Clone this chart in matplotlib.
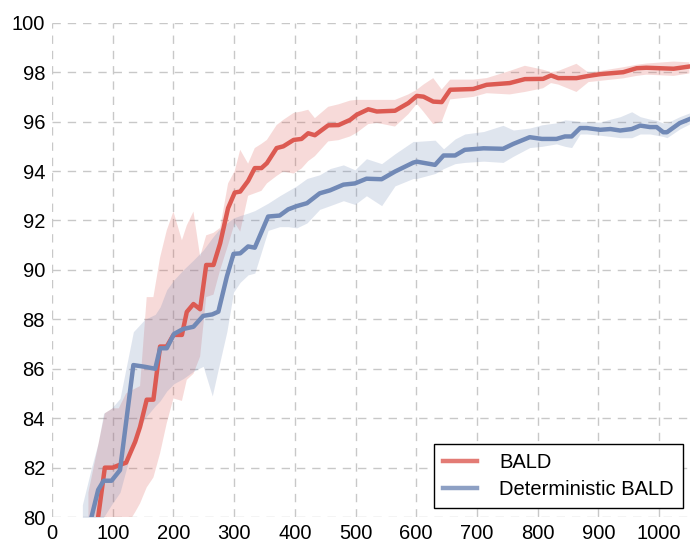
import matplotlib
matplotlib.use("Agg")
import matplotlib.pyplot as plt

plt.rcParams['font.family'] = ['Liberation Sans', 'DejaVu Sans']

# BALD (red)
x_bald = [60, 87, 100, 110, 122, 137, 145, 156, 167, 178, 189, 200, 214, 222, 233,
          244, 254, 266, 277, 290, 301, 310, 323, 334, 345, 354, 370, 381, 398, 411,
          422, 433, 455, 472, 491, 502, 521, 535, 565, 587, 601, 612, 628, 642, 656,
          694, 716, 754, 779, 809, 822, 834, 864, 884, 903, 941, 963, 979, 1024, 1050]
bald_mean = [77.1, 82.0, 82.0, 82.1, 82.2, 83.05, 83.65, 84.75, 84.75, 86.9, 86.9, 87.37, 87.37, 88.3, 88.62,
             88.41, 90.2, 90.2, 91.08, 92.5, 93.13, 93.17, 93.6, 94.12, 94.12, 94.32, 94.93, 95.0, 95.26, 95.3,
             95.53, 95.45, 95.85, 95.86, 96.07, 96.28, 96.5, 96.41, 96.44, 96.75, 97.04, 97.01, 96.81, 96.79, 97.29,
             97.32, 97.49, 97.56, 97.72, 97.73, 97.87, 97.76, 97.76, 97.85, 97.92, 98.0, 98.16, 98.18, 98.14, 98.23]
bald_hi = [81.0, 84.2, 84.4, 84.4, 85.0, 85.2, 85.3, 88.9, 88.9, 90.5, 91.6, 92.36, 91.2, 91.8, 92.36,
           90.54, 91.4, 91.5, 91.7, 93.5, 94.0, 94.86, 94.3, 94.93, 95.1, 95.26, 95.86, 96.07, 96.35, 96.41,
           96.48, 96.14, 96.6, 96.7, 96.85, 96.88, 96.88, 96.88, 96.88, 97.1, 97.29, 97.5, 97.76, 97.3, 97.7,
           97.7, 97.76, 98.05, 98.26, 98.1, 98.0, 98.05, 98.34, 97.98, 98.05, 98.2, 98.3, 98.35, 98.43, 98.4]
bald_lo = [75.0, 78.5, 79.0, 79.3, 79.6, 80.2, 80.55, 81.2, 81.6, 82.58, 83.8, 84.8, 84.7, 85.55, 85.8,
           86.5, 88.9, 89.0, 90.0, 91.0, 91.9, 91.55, 93.0, 93.1, 93.2, 93.5, 93.8, 93.98, 93.9, 94.1,
           94.4, 94.6, 95.2, 95.25, 95.4, 95.55, 95.9, 95.95, 95.8, 96.3, 96.72, 96.4, 95.9, 96.0, 96.9,
           97.0, 97.15, 97.1, 97.2, 97.35, 97.56, 97.5, 97.2, 97.6, 97.65, 97.75, 97.85, 97.9, 97.85, 97.95]

# Deterministic BALD (blue)
x_det = [50, 65, 76, 85, 98, 112, 134, 153, 170, 178, 189, 201, 216, 233, 249,
         264, 274, 288, 299, 310, 323, 334, 356, 375, 389, 403, 420, 441, 458, 480,
         499, 518, 543, 565, 595, 601, 631, 645, 664, 680, 711, 743, 760, 787, 807,
         831, 845, 856, 870, 881, 903, 920, 936, 955, 969, 985, 996, 1007, 1013, 1034, 1050]
det_mean = [78.6, 80.0, 81.1, 81.47, 81.47, 81.9, 86.15, 86.08, 86.0, 86.83, 86.83, 87.41, 87.61, 87.7, 88.14,
            88.2, 88.31, 89.73, 90.65, 90.67, 90.95, 90.9, 92.16, 92.2, 92.45, 92.58, 92.7, 93.1, 93.22, 93.45,
            93.5, 93.69, 93.67, 93.98, 94.34, 94.38, 94.25, 94.63, 94.63, 94.86, 94.92, 94.9, 95.1, 95.37, 95.3,
            95.3, 95.4, 95.4, 95.74, 95.74, 95.67, 95.7, 95.64, 95.7, 95.84, 95.78, 95.78, 95.57, 95.57, 95.94, 96.1]
det_hi = [80.5, 82.0, 83.0, 84.2, 84.4, 84.8, 87.5, 88.0, 88.2, 88.5, 89.2, 89.6, 90.0, 90.4, 90.8,
          91.3, 91.6, 91.9, 92.1, 92.2, 92.3, 92.4, 92.7, 93.0, 93.2, 93.4, 93.7, 93.85, 94.1, 94.25,
          94.05, 94.5, 94.3, 94.7, 95.2, 95.2, 95.25, 94.9, 95.3, 95.5, 95.6, 95.85, 95.66, 95.74, 95.87,
          95.95, 96.07, 96.05, 96.0, 96.0, 95.98, 96.1, 96.2, 96.4, 96.2, 96.1, 96.05, 95.94, 95.95, 96.2, 96.35]
det_lo = [77.0, 78.5, 79.5, 80.0, 80.5, 81.0, 83.0, 84.0, 84.5, 84.7, 85.1, 85.4, 85.6, 85.9, 86.1,
          84.9, 86.0, 87.5, 89.1, 89.5, 89.8, 89.87, 91.6, 91.75, 91.75, 91.7, 91.9, 92.45, 92.6, 92.8,
          92.65, 93.0, 92.6, 93.4, 93.7, 93.7, 93.9, 94.1, 94.3, 94.35, 94.4, 94.35, 94.6, 94.95, 95.0,
          95.1, 95.0, 94.95, 95.5, 95.5, 95.45, 95.4, 95.35, 95.35, 95.5, 95.5, 95.45, 95.4, 95.35, 95.7, 95.9]

red = '#dc5a52'
blue = '#7189b6'

fig = plt.figure(figsize=(6.9, 5.42), dpi=100)
ax = fig.add_axes([0.0754, 0.046, 0.9246, 0.912])

ax.fill_between(x_bald, bald_lo, bald_hi, color=red, alpha=0.22, linewidth=0)
ax.fill_between(x_det, det_lo, det_hi, color=blue, alpha=0.22, linewidth=0)
ax.plot(x_bald, bald_mean, color=red, lw=3.2, label='BALD')
ax.plot(x_det, det_mean, color=blue, lw=3.2, label='Deterministic BALD')

ax.set_xlim(0, 1051)
ax.set_ylim(80, 100)
ax.set_xticks(range(0, 1001, 100))
ax.set_yticks(range(80, 101, 2))
ax.tick_params(length=0, labelsize=14.5, pad=5)
ax.grid(True, linestyle=(0, (6, 5)), color='#c8c8c8', linewidth=1)
ax.set_axisbelow(True)
for s in ax.spines.values():
    s.set_visible(False)

leg = ax.legend(loc='lower right', fontsize=14.5, fancybox=False, framealpha=1,
                edgecolor='black', handlelength=1.7, handletextpad=1.1,
                borderpad=0.45, labelspacing=0.4, borderaxespad=0,
                bbox_to_anchor=(0.989, 0.018))
leg.get_frame().set_linewidth(1.0)
for h in leg.get_lines():
    h.set_alpha(0.8)

fig.savefig('out.png', dpi=100)
